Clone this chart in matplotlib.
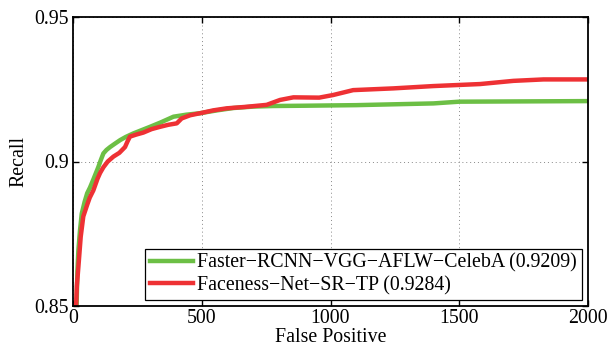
import matplotlib
matplotlib.use("Agg")
import matplotlib.pyplot as plt

plt.rcParams['font.family'] = ['Liberation Serif', 'DejaVu Serif']

green_x = [0, 14, 17, 21, 27, 34, 45, 55, 66, 80, 98, 108, 118, 130, 144, 160, 183, 205, 234, 265, 299, 340, 390, 440, 493, 560, 622, 700, 777, 900, 1100, 1400, 1500, 2000]
green_y = [0.85, 0.85, 0.862, 0.8694, 0.876, 0.882, 0.886, 0.889, 0.891, 0.894, 0.898, 0.9005, 0.9028, 0.904, 0.905, 0.906, 0.9074, 0.9085, 0.9097, 0.9108, 0.912, 0.9135, 0.9155, 0.9162, 0.9167, 0.9177, 0.9185, 0.919, 0.9192, 0.9193, 0.9195, 0.9201, 0.9207, 0.9209]

red_x = [0, 12, 15, 21, 30, 40, 55, 65, 79, 95, 105, 118, 135, 157, 180, 202, 212, 221, 245, 273, 305, 338, 370, 403, 422, 455, 493, 545, 597, 670, 752, 804, 856, 956, 1010, 1088, 1244, 1399, 1581, 1710, 1827, 2000]
red_y = [0.85, 0.85, 0.857, 0.8636, 0.874, 0.881, 0.885, 0.8875, 0.890, 0.894, 0.896, 0.898, 0.900, 0.9017, 0.903, 0.905, 0.907, 0.9086, 0.9093, 0.910, 0.9112, 0.912, 0.9127, 0.9132, 0.9149, 0.916, 0.9167, 0.9177, 0.9184, 0.9189, 0.9196, 0.9213, 0.9222, 0.9221, 0.923, 0.9247, 0.9253, 0.9261, 0.9268, 0.9279, 0.9284, 0.9284]

labels = ['Faster\u2212RCNN\u2212VGG\u2212AFLW\u2212CelebA (0.9209)',
          'Faceness\u2212Net\u2212SR\u2212TP (0.9284)']
xticks = [0, 500, 1000, 1500, 2000]
yticks = [0.85, 0.9, 0.95]
yticklabels = ['0.85', '0.9', '0.95']

fs = 14.3
fig = plt.figure(figsize=(6.13, 3.48), dpi=100)
ax = fig.add_axes([73/613, 1 - 306/348, (588-73)/613, (306-17)/348])

ax.plot(green_x, green_y, color='#6cbf45', lw=3.2, label=labels[0])
ax.plot(red_x, red_y, color='#ee3134', lw=3.2, label=labels[1])

ax.set_xlim(0, 2000)
ax.set_ylim(0.85, 0.95)
ax.set_xticks(xticks)
ax.set_yticks(yticks)
ax.set_yticklabels(yticklabels)
ax.tick_params(direction='in', top=True, right=True, labelsize=fs, length=4, width=1, pad=3)
ax.tick_params(axis='x', pad=2)
ax.grid(True, color='#888888', linestyle=(0, (1, 3)), linewidth=0.7)
for s in ax.spines.values():
    s.set_linewidth(1.3)
ax.set_xlabel('False Positive', fontsize=fs, labelpad=0)
ax.set_ylabel('Recall', fontsize=fs, labelpad=4)

leg = ax.legend(loc='lower right', fontsize=fs, frameon=True, fancybox=False,
                edgecolor='black', handlelength=2.2, borderpad=0.25, labelspacing=0.15,
                handletextpad=0.2, borderaxespad=0.3, framealpha=1)
leg.get_frame().set_linewidth(0.9)

fig.savefig('out.png', dpi=100)
